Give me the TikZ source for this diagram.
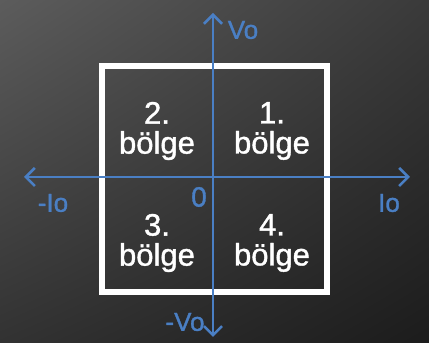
\documentclass[tikz,border=0pt]{standalone}
\usepackage{fontspec}
\setmainfont{Liberation Sans}
\newfontfamily\heavyfont{Liberation Sans}[FakeBold=1.2]
\usetikzlibrary{arrows.meta,shadings}
\definecolor{axisblue}{HTML}{4A7FC4}
\definecolor{bgul}{RGB}{92,92,92}
\definecolor{bgur}{RGB}{58,58,58}
\definecolor{bgll}{RGB}{50,50,50}
\definecolor{bglr}{RGB}{28,28,28}
\tikzset{
  axis/.style={draw=axisblue, line width=2.6pt, -{Straight Barb[length=9pt,width=18pt,line width=2.6pt]}},
  quad/.style={text=white, font=\heavyfont\fontsize{31}{30}\selectfont, align=center, inner sep=0pt},
  alabel/.style={text=axisblue, font=\heavyfont\fontsize{26}{28}\selectfont, inner sep=0pt}
}
\begin{document}
\begin{tikzpicture}[x=1pt,y=-1pt]
\useasboundingbox (0,0) rectangle (429,347);
\shade[shading=bilinear interpolation, upper left=bgul, upper right=bgur,
       lower left=bgll, lower right=bglr]
  (0,0) rectangle (429,343);
\fill[white] (0,343) rectangle (429,347);
% box
\node[draw=white, line width=6pt, minimum width=225pt, minimum height=226pt, inner sep=0pt] (box) at (214.5,179) {};
% axes
\coordinate (o) at (213,177);
\coordinate (top) at (213,13);
\coordinate (bot) at (213,337);
\coordinate (lft) at (24,177);
\coordinate (rgt) at (410,177);
\draw[axis] (o) -- (top);
\draw[axis] (o) -- (bot);
\draw[axis] (o) -- (lft);
\draw[axis] (o) -- (rgt);
% labels
\node[alabel] (vo) at (243,30) {Vo};
\node[alabel] (mvo) at (185,322) {-Vo};
\node[alabel] (mio) at (53,203) {-Io};
\node[alabel] (io) at (389,203) {Io};
\node[alabel, font=\heavyfont\fontsize{28}{30}\selectfont] (zero) at (199,197) {0};
% quadrants
\node[quad] (q2) at (157,131) {2.\\bölge};
\node[quad] (q1) at (272,131) {1.\\bölge};
\node[quad] (q3) at (157,243) {3.\\bölge};
\node[quad] (q4) at (272,243) {4.\\bölge};
\end{tikzpicture}
\end{document}
